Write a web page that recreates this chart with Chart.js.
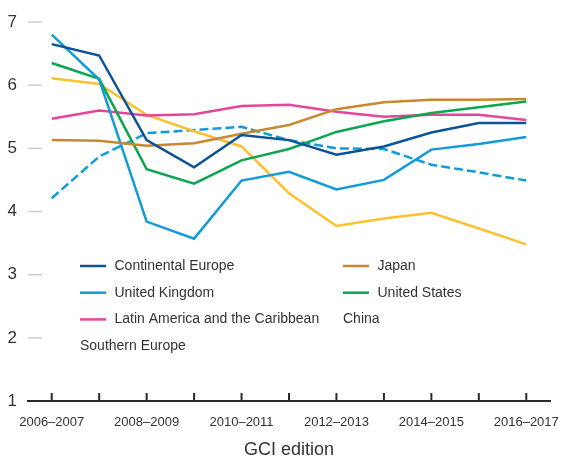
<!DOCTYPE html>
<html>
<head>
<meta charset="utf-8">
<script src="https://cdn.jsdelivr.net/npm/chart.js@4.4.0/dist/chart.umd.min.js"></script>
<style>
    html, body { margin: 0; padding: 0; background: #fff; }
    #wrap { width: 569px; height: 457px; }
</style>
</head>
<body>
<div id="wrap"><canvas id="myChart"></canvas></div>
<script>
// GCI editions (every other one gets a label on the axis)
const editions = ['2006–2007', '2007–2008', '2008–2009', '2009–2010', '2010–2011', '2011–2012',
    '2012–2013', '2013–2014', '2014–2015', '2015–2016', '2016–2017'];
const yTicks = [1, 2, 3, 4, 5, 6, 7];

const continentalEurope = [6.65, 6.47, 5.13, 4.70, 5.21, 5.13, 4.90, 5.03, 5.25, 5.40, 5.40];
const japan = [5.13, 5.12, 5.04, 5.08, 5.23, 5.37, 5.62, 5.73, 5.77, 5.77, 5.78];
const unitedKingdom = [6.80, 6.09, 3.84, 3.57, 4.49, 4.63, 4.35, 4.50, 4.98, 5.07, 5.18];
const unitedStates = [6.35, 6.10, 4.67, 4.44, 4.81, 4.99, 5.26, 5.43, 5.56, 5.65, 5.74];
const latinAmerica = [5.47, 5.60, 5.52, 5.54, 5.67, 5.69, 5.58, 5.50, 5.53, 5.53, 5.45];
const china = [6.11, 6.02, 5.53, 5.27, 5.03, 4.29, 3.77, 3.89, 3.98, 3.73, 3.48];
const southernEurope = [4.21, 4.87, 5.24, 5.29, 5.34, 5.13, 5.00, 4.99, 4.74, 4.62, 4.49];

const textColor = '#333333';

function line(label, data, color, swatch, dash) {
    return {
        label: label,
        data: data,
        borderColor: color,
        backgroundColor: color,
        borderWidth: 2.5,
        borderDash: dash || [],
        pointRadius: 0,
        tension: 0,
        fill: false,
        swatch: swatch
    };
}

// little ticks that point up from the x axis, and grey dashes by the y labels
const axisMarks = {
    id: 'axisMarks',
    afterDraw(chart) {
        const ctx = chart.ctx;
        const x = chart.scales.x;
        const y = chart.scales.y;
        const area = chart.chartArea;
        ctx.save();
        ctx.strokeStyle = '#cccccc';
        ctx.lineWidth = 1.5;
        yTicks.slice(1).forEach(function (v) {
            let py = y.getPixelForValue(v);
            ctx.beginPath();
            ctx.moveTo(area.left, py);
            ctx.lineTo(area.left + 14, py);
            ctx.stroke();
        });
        ctx.strokeStyle = '#2b2b2b';
        ctx.lineWidth = 2;
        for (let i = 0; i < editions.length; i++) {
            let px = x.getPixelForValue(i);
            ctx.beginPath();
            ctx.moveTo(px, area.bottom);
            ctx.lineTo(px, area.bottom - 8);
            ctx.stroke();
        }
        ctx.restore();
    }
};

// legend sitting inside the plot, two columns
const innerLegend = {
    id: 'innerLegend',
    afterDraw(chart) {
        const ctx = chart.ctx;
        const area = chart.chartArea;
        const colX = [area.left + 52, area.left + 315];
        const rowY = area.bottom - 135;
        ctx.save();
        ctx.font = '14px "Liberation Sans", Arial, sans-serif';
        ctx.textBaseline = 'middle';
        ctx.fillStyle = textColor;
        chart.data.datasets.forEach(function (ds, k) {
            let lx = colX[k % 2];
            let ly = rowY + Math.floor(k / 2) * 26.7;
            if (ds.swatch) {
                ctx.strokeStyle = ds.borderColor;
                ctx.lineWidth = 2.5;
                ctx.beginPath();
                ctx.moveTo(lx, ly);
                ctx.lineTo(lx + 26, ly);
                ctx.stroke();
                ctx.fillText(ds.label, lx + 34.5, ly);
            } else {
                ctx.fillText(ds.label, lx, ly);
            }
        });
        ctx.restore();
    }
};

function drawChart() {
    const el = document.getElementById('myChart').getContext('2d');
    new Chart(el, {
        type: 'line',
        data: {
            labels: editions,
            datasets: [
                line('Continental Europe', continentalEurope, '#0a5396', true),
                line('Japan', japan, '#c8882f', true),
                line('United Kingdom', unitedKingdom, '#129bd6', true),
                line('United States', unitedStates, '#0ba64f', true),
                line('Latin America and the Caribbean', latinAmerica, '#e5459a', true),
                line('China', china, '#fcc12e', false),
                line('Southern Europe', southernEurope, '#129bd6', false, [9, 4])
            ]
        },
        options: {
            responsive: true,
            maintainAspectRatio: false,
            animation: false,
            layout: { padding: { top: 22, right: 19, left: 0, bottom: 0 } },
            plugins: {
                legend: { display: false },
                tooltip: { enabled: false }
            },
            scales: {
                x: {
                    type: 'category',
                    offset: true,
                    grid: { display: false, drawTicks: false },
                    border: { display: true, color: '#2b2b2b', width: 2 },
                    ticks: {
                        autoSkip: false,
                        maxRotation: 0,
                        padding: 14,
                        color: textColor,
                        font: { family: '"Liberation Sans", Arial, sans-serif', size: 13 },
                        callback: function (value, index) {
                            return index % 2 === 0 ? editions[index] : '';
                        }
                    },
                    title: {
                        display: true,
                        text: 'GCI edition',
                        color: textColor,
                        padding: { top: 0, bottom: 0 },
                        font: { family: '"Liberation Sans", Arial, sans-serif', size: 18, lineHeight: 0.8 }
                    },
                    afterFit: function (scale) {
                        scale.height = 56;
                        scale.paddingLeft = 0;
                        scale.paddingRight = 0;
                    }
                },
                y: {
                    min: 1,
                    max: 7,
                    grid: { display: false, drawTicks: false },
                    border: { display: false },
                    ticks: {
                        stepSize: 1,
                        padding: 11,
                        color: textColor,
                        font: { family: '"Liberation Sans", Arial, sans-serif', size: 17 }
                    },
                    afterFit: function (scale) { scale.width = 28; }
                }
            }
        },
        plugins: [axisMarks, innerLegend]
    });
}

drawChart();
</script>
</body>
</html>
